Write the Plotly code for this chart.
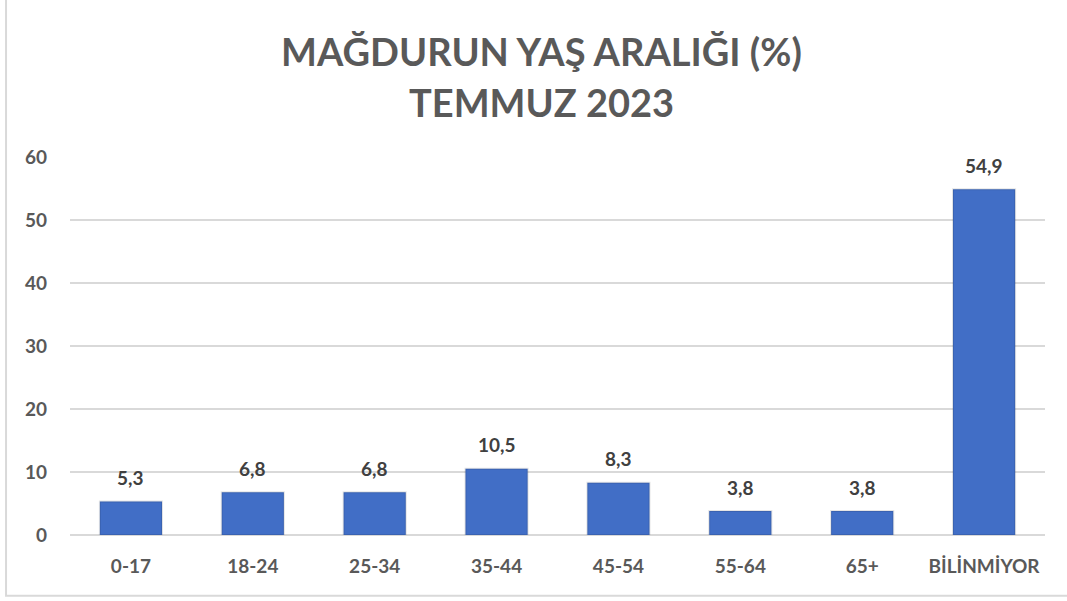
import plotly.graph_objects as go

categories = ["0-17", "18-24", "25-34", "35-44", "45-54", "55-64", "65+", "BİLİNMİYOR"]
values = [5.3, 6.8, 6.8, 10.5, 8.3, 3.8, 3.8, 54.9]
y_ticks = [0, 10, 20, 30, 40, 50, 60]
title_lines = ["MAĞDURUN YAŞ ARALIĞI (%)", "TEMMUZ 2023"]

FONT = "Lato"
GRAY = "#595959"
labels = [f"{v:.1f}".replace(".", ",") for v in values]

fig = go.Figure()
fig.add_trace(go.Bar(
    x=categories, y=values,
    width=0.51,
    marker=dict(color="#416EC6", line=dict(color="rgba(0,0,0,0.10)", width=2)),
    hoverinfo="x+y",
))

for c, v, t in zip(categories, values, labels):
    fig.add_annotation(x=c, y=v, text=f"<b>{t}</b>", showarrow=False,
                       yshift=24, font=dict(family=FONT, size=19, color="#404040"))

# title lines
for txt, yy in zip(title_lines, [1.280, 1.1455]):
    fig.add_annotation(text=f"<b>{txt}</b>", xref="paper", yref="paper",
                       x=0.4836, y=yy, xanchor="center", yanchor="middle",
                       showarrow=False, font=dict(family=FONT, size=38, color=GRAY))

fig.update_layout(
    width=1067, height=601,
    margin=dict(l=70, r=22, t=157, b=66),
    paper_bgcolor="white", plot_bgcolor="white",
    showlegend=False,
    font=dict(family=FONT, color=GRAY),
    bargap=0.49,
)
fig.update_yaxes(range=[0, 60], tickvals=y_ticks, ticktext=[f"<b>{v}</b>" for v in y_ticks],
                 showgrid=True, gridcolor="#D9D9D9", gridwidth=1.5,
                 zeroline=True, zerolinecolor="#D9D9D9", zerolinewidth=2,
                 tickfont=dict(family=FONT, size=19, color=GRAY), ticklabelstandoff=22,
                 showline=False, fixedrange=True)
fig.update_xaxes(tickvals=categories, ticktext=[f"<b>{c}</b>" for c in categories],
                 tickfont=dict(family=FONT, size=19, color=GRAY), ticklabelstandoff=18,
                 showline=False, showgrid=False)

# chart border (left and bottom visible)
fig.add_shape(type="rect", xref="paper", yref="paper",
              x0=-0.0656, x1=1.05, y0=-0.161, y1=1.45,
              line=dict(color="#D9D9D9", width=2), fillcolor="rgba(0,0,0,0)", layer="below")

fig.write_html("out.html", config={"displayModeBar": False},
               post_script="document.body.style.margin='0';")
